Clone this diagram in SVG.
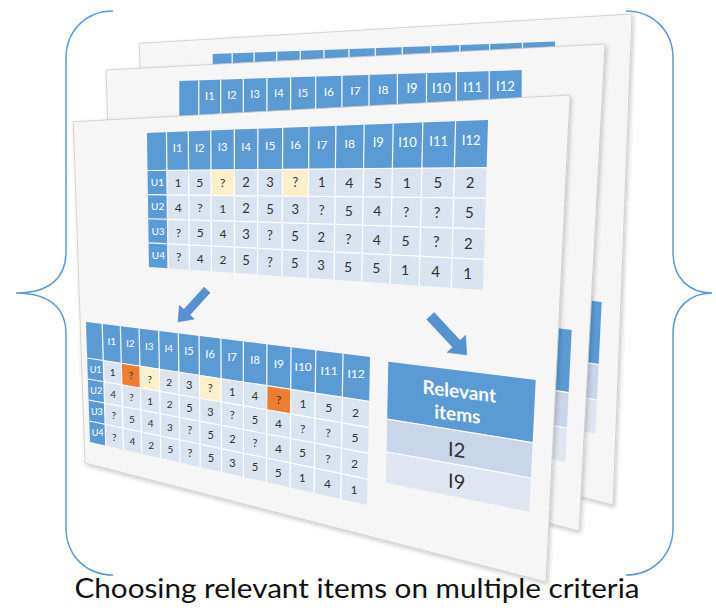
<svg xmlns="http://www.w3.org/2000/svg" xmlns:xlink="http://www.w3.org/1999/xlink" width="716" height="610" viewBox="0 0 716 610">
<defs>
<style>
.slide{fill:#f6f6f6;stroke:#cbcbcb;stroke-width:0.8;filter:url(#shadow)}
.hd{fill:#5b9bd5}
.cell{fill:#dae3f0}
.grid{fill:none;stroke:#ffffff;stroke-width:1.2}
.hl{fill:#fcefc9}
.or{fill:#ed7d31}
.r2{fill:#c9d5e8}
.r9{fill:#e0e6f1}
.t{font-family:Lato,"Liberation Sans",sans-serif;text-anchor:middle}
.w{fill:#ffffff}
.k{fill:#333333}
.s9{font-size:9px}.s10{font-size:10px}.s11{font-size:11px}.s12{font-size:12px}.s13{font-size:13px}.s14{font-size:14px}.s15{font-size:15px}
.brace{fill:none;stroke:#5b9bd5;stroke-width:1.5}
.arrow{fill:#5592cf;stroke:#4a86c2;stroke-width:0.6}
.cap{font-family:Lato,"Liberation Sans",sans-serif;font-size:26px;fill:#111111;text-anchor:middle}
</style>
<filter id="shadow" x="-5%" y="-5%" width="112%" height="112%">
<feDropShadow dx="1.5" dy="2" stdDeviation="2" flood-color="#000000" flood-opacity="0.22"/>
</filter>
<!-- cells of the "Relevant items" box, reused on every sheet -->
<g id="rel-cells">
<polygon class="hd" points="388.3,361.7 535.7,380 532.66,442.56 387.21,419.18"/>
<polygon class="r2" points="387.21,419.18 532.66,442.56 530.94,477.98 386.59,451.72"/>
<polygon class="r9" points="386.59,451.72 530.94,477.98 529.3,511.7 386,482.7"/>
<path class="grid" d="M387.21,419.18L532.66,442.56M386.59,451.72L530.94,477.98"/>
</g>
</defs>

<!-- curly braces -->
<g id="brace-left">
<path class="brace" d="M113,11C86,11 66,31 66,58L66,252C66,279 48,293 16,293C48,293 66,307 66,334L66,528C66,555 86,575 113,575"/>
</g>
<g id="brace-right">
<path class="brace" d="M626,11C653,11 673,31 673,58L673,252C673,279 690,293 712,293C690,293 673,307 673,334L673,528C673,555 653,575 626,575"/>
</g>

<!-- back sheet -->
<g id="sheet-back">
<polygon class="slide" points="139.3,43.3 632,14 613,505 151,384.6"/>
<polygon class="hd" points="212.7,54 555,41.5 555,90 212.7,100"/>
<path class="grid" d="M232.2,53.3V100M254.1,52.5V100M276.7,51.7V100M300.3,50.8V100M323.9,49.9V100M348.9,49V100M375.3,48.1V100M402.3,47.1V100M430.7,46V100M459.8,45V100M489.6,43.9V100M522.5,42.7V100"/>
<use xlink:href="#rel-cells" transform="translate(66,-78)"/>
</g>

<!-- middle sheet -->
<g id="sheet-middle">
<polygon class="slide" points="106,70 605,44 579,531 117.7,411.3"/>
<polygon class="hd" points="179.3,81 521.7,70 521.7,135 179.3,135"/>
<path class="grid" d="M198.8,80.4V135M220.7,79.7V135M243.3,78.9V135M266.9,78.2V135M290.6,77.4V135M315.6,76.6V135M341.9,75.8V135M369,74.9V135M397.4,74V135M426.5,73.1V135M456.3,72.1V135M489.2,71V135"/>
<g class="t w">
<text class="s11" x="209.8" y="99.6">I1</text>
<text class="s11" x="232" y="98.9">I2</text>
<text class="s11" x="255.1" y="98.2">I3</text>
<text class="s11" x="278.8" y="97.4">I4</text>
<text class="s12" x="303.1" y="96.7">I5</text>
<text class="s12" x="328.8" y="95.9">I6</text>
<text class="s12" x="355.5" y="95.1">I7</text>
<text class="s12" x="383.2" y="94.2">I8</text>
<text class="s13" x="412" y="93.4">I9</text>
<text class="s13" x="441.4" y="92.5">I10</text>
<text class="s13" x="472.7" y="91.5">I11</text>
<text class="s13" x="505.4" y="90.5">I12</text>
</g>
<use xlink:href="#rel-cells" transform="translate(36,-50)"/>
</g>

<!-- front sheet -->
<g id="sheet-front">
<polygon class="slide" points="73.3,121.7 570,95 546,582 85,463"/>
</g>

<!-- ratings matrix -->
<g id="ratings">
<polygon class="cell" points="147,133 488,120 483,290 149,267"/>
<polygon class="hd" points="147,133 488,120 486.6,167.6 147.56,170.52"/>
<polygon class="hd" points="147.56,170.52 166.89,170.36 168.04,268.31 149,267"/>
<polygon class="hl" points="210.96,169.97 234.36,169.77 234.39,195.55 211.09,195.31"/>
<polygon class="hl" points="282.5,169.36 308.6,169.13 308.37,196.33 282.36,196.06"/>
<path class="grid" d="M166.44,132.26L168.04,268.31M188.26,131.43L189.41,269.78M210.77,130.57L211.46,271.3M234.3,129.67L234.5,272.89M257.83,128.78L257.55,274.48M282.72,127.83L281.93,276.15M308.98,126.83L307.65,277.93M335.91,125.8L334.04,279.74M364.22,124.72L361.76,281.65M393.2,123.61L390.15,283.61M422.87,122.48L419.21,285.61M455.61,121.24L451.27,287.82M147.56,170.52L486.6,167.6M147.92,194.64L485.7,198.2M148.28,218.76L484.8,228.8M148.64,242.88L483.9,259.4"/>
<g class="t w">
<text class="s11" x="177.54" y="152">I1</text>
<text class="s11" x="199.64" y="151.5">I2</text>
<text class="s11" x="222.6" y="151">I3</text>
<text class="s11" x="246.06" y="150.5">I4</text>
<text class="s12" x="270.2" y="149.9">I5</text>
<text class="s12" x="295.7" y="149.3">I6</text>
<text class="s12" x="322.22" y="148.7">I7</text>
<text class="s12" x="349.76" y="148">I8</text>
<text class="s13" x="378.32" y="147.3">I9</text>
<text class="s13" x="407.57" y="146.7">I10</text>
<text class="s13" x="438.68" y="145.9">I11</text>
<text class="s13" x="471.15" y="145.2">I12</text>
<text class="s10" x="157.4" y="186.1">U1</text>
<text class="s10" x="157.7" y="210.4">U2</text>
<text class="s10" x="158" y="234.7">U3</text>
<text class="s10" x="158.4" y="259">U4</text>
</g>
<g class="t k">
<text class="s12" x="177.86" y="187.1">1</text>
<text class="s12" x="199.85" y="187.1">5</text>
<text class="s12" x="222.7" y="187.1">?</text>
<text class="s13" x="246.05" y="187.1">2</text>
<text class="s13" x="270.07" y="187.1">3</text>
<text class="s13" x="295.45" y="187.1">?</text>
<text class="s13" x="321.85" y="187.1">1</text>
<text class="s14" x="349.26" y="187.8">4</text>
<text class="s14" x="377.69" y="187.8">5</text>
<text class="s14" x="406.79" y="187.8">1</text>
<text class="s15" x="437.76" y="187.8">5</text>
<text class="s15" x="470.07" y="187.8">2</text>

<text class="s12" x="178.11" y="211.8">4</text>
<text class="s12" x="200.02" y="212.2">?</text>
<text class="s12" x="222.78" y="212.7">1</text>
<text class="s13" x="246.04" y="213.2">2</text>
<text class="s13" x="269.98" y="213.7">5</text>
<text class="s13" x="295.27" y="214.2">3</text>
<text class="s13" x="321.56" y="214.7">?</text>
<text class="s14" x="348.87" y="215.8">5</text>
<text class="s14" x="377.19" y="216.3">4</text>
<text class="s14" x="406.19" y="216.9">?</text>
<text class="s15" x="437.04" y="217.5">?</text>
<text class="s15" x="469.24" y="218.2">5</text>

<text class="s12" x="178.35" y="236.5">?</text>
<text class="s12" x="200.19" y="237.4">5</text>
<text class="s12" x="222.86" y="238.3">4</text>
<text class="s13" x="246.03" y="239.2">3</text>
<text class="s13" x="269.88" y="240.1">?</text>
<text class="s13" x="295.08" y="241.1">5</text>
<text class="s13" x="321.27" y="242.2">2</text>
<text class="s14" x="348.48" y="243.7">?</text>
<text class="s14" x="376.7" y="244.8">4</text>
<text class="s14" x="405.58" y="246">5</text>
<text class="s15" x="436.32" y="247.2">?</text>
<text class="s15" x="468.4" y="248.5">2</text>

<text class="s12" x="178.6" y="261.2">?</text>
<text class="s12" x="200.35" y="262.5">4</text>
<text class="s12" x="222.94" y="263.8">2</text>
<text class="s13" x="246.03" y="265.2">5</text>
<text class="s13" x="269.79" y="266.6">?</text>
<text class="s13" x="294.89" y="268.1">5</text>
<text class="s13" x="320.99" y="269.6">3</text>
<text class="s14" x="348.09" y="271.7">5</text>
<text class="s14" x="376.2" y="273.4">5</text>
<text class="s14" x="405" y="275.1">1</text>
<text class="s15" x="435.6" y="276.9">4</text>
<text class="s15" x="467.56" y="278.8">1</text>
</g>
</g>

<!-- matrix with the picked cells -->
<g id="picked">
<polygon class="cell" points="86,322 370,357 367,505 90,442"/>
<polygon class="hd" points="86,322 370,357 369.1,401.4 87.2,358"/>
<polygon class="hd" points="87.2,358 103.27,360.48 105.79,445.59 90,442"/>
<polygon class="or" points="121.31,363.25 139.92,366.12 140.39,388.03 121.86,384.84"/>
<polygon class="hl" points="139.92,366.12 159.37,369.11 159.75,391.36 140.39,388.03"/>
<polygon class="hl" points="199.4,375.27 221.1,378.62 221.22,401.94 199.61,398.22"/>
<polygon class="or" points="266.77,385.65 290.73,389.33 290.55,413.87 266.69,409.77"/>
<path class="grid" d="M102.19,324L105.79,445.59M120.36,326.24L123.52,449.62M139.11,328.55L141.8,453.78M158.7,330.96L160.91,458.13M178.3,333.38L180.03,462.48M199.03,335.93L200.25,467.07M220.9,338.63L221.58,471.93M243.34,341.39L243.46,476.9M266.91,344.3L266.45,482.13M291.05,347.27L289.99,487.49M315.76,350.32L314.09,492.97M343.02,353.68L340.69,499.02M87.2,358L369.1,401.4M87.9,379L368.58,427.3M88.6,400L368.05,453.2M89.3,421L367.53,479.1"/>
<g class="t w">
<text class="s10" x="111.8" y="344.5">I1</text>
<text class="s10" x="130.2" y="347">I2</text>
<text class="s10" x="149.3" y="349.7">I3</text>
<text class="s10" x="168.8" y="352.4">I4</text>
<text class="s11" x="188.9" y="355.2">I5</text>
<text class="s11" x="210.1" y="358.1">I6</text>
<text class="s11" x="232.2" y="361.2">I7</text>
<text class="s11" x="255.1" y="364.3">I8</text>
<text class="s12" x="278.9" y="367.6">I9</text>
<text class="s12" x="303.2" y="371">I10</text>
<text class="s12" x="329.1" y="374.6">I11</text>
<text class="s12" x="356.1" y="378.3">I12</text>
<text class="s9" x="95.6" y="373">U1</text>
<text class="s9" x="96.2" y="394.1">U2</text>
<text class="s9" x="96.9" y="415.3">U3</text>
<text class="s9" x="97.6" y="436.4">U4</text>
</g>
<g class="t k">
<text class="s10" x="112.58" y="376.4">1</text>
<text class="s10" x="130.87" y="379.4">?</text>
<text class="s10" x="149.86" y="382.5">?</text>
<text class="s10" x="169.26" y="385.6">2</text>
<text class="s11" x="189.24" y="388.9">3</text>
<text class="s11" x="210.33" y="392.3">?</text>
<text class="s11" x="232.27" y="395.9">1</text>
<text class="s11" x="255.06" y="399.6">4</text>
<text class="s12" x="278.69" y="404">?</text>
<text class="s12" x="302.88" y="407.9">1</text>
<text class="s12" x="328.61" y="412.1">5</text>
<text class="s12" x="355.48" y="416.5">2</text>

<text class="s10" x="113.17" y="397.8">4</text>
<text class="s10" x="131.38" y="401.1">?</text>
<text class="s10" x="150.28" y="404.5">1</text>
<text class="s10" x="169.61" y="408">2</text>
<text class="s11" x="189.49" y="411.7">5</text>
<text class="s11" x="210.5" y="415.5">3</text>
<text class="s11" x="232.34" y="419.4">?</text>
<text class="s11" x="255.03" y="423.5">5</text>
<text class="s12" x="278.55" y="428.3">4</text>
<text class="s12" x="302.63" y="432.7">?</text>
<text class="s12" x="328.26" y="437.3">?</text>
<text class="s12" x="355" y="442.1">5</text>

<text class="s10" x="113.77" y="419.3">?</text>
<text class="s10" x="131.89" y="422.9">5</text>
<text class="s10" x="150.71" y="426.6">4</text>
<text class="s10" x="169.95" y="430.5">3</text>
<text class="s11" x="189.75" y="434.4">?</text>
<text class="s11" x="210.66" y="438.6">5</text>
<text class="s11" x="232.41" y="442.9">2</text>
<text class="s11" x="255" y="447.4">?</text>
<text class="s12" x="278.42" y="452.6">4</text>
<text class="s12" x="302.4" y="457.4">5</text>
<text class="s12" x="327.92" y="462.5">?</text>
<text class="s12" x="354.55" y="467.8">2</text>

<text class="s10" x="114.36" y="440.7">?</text>
<text class="s10" x="132.4" y="444.6">4</text>
<text class="s10" x="151.14" y="448.7">2</text>
<text class="s10" x="170.3" y="452.9">5</text>
<text class="s11" x="190.01" y="457.2">?</text>
<text class="s11" x="210.83" y="461.7">5</text>
<text class="s11" x="232.48" y="466.5">3</text>
<text class="s11" x="254.97" y="471.4">5</text>
<text class="s12" x="278.28" y="476.9">5</text>
<text class="s12" x="302.16" y="482.1">1</text>
<text class="s12" x="327.56" y="487.7">4</text>
<text class="s12" x="354.08" y="493.5">1</text>
</g>
</g>

<!-- relevant items box; labels are sheared so they follow the tilted rows -->
<g id="relevant">
<use xlink:href="#rel-cells"/>
<g class="t">
<text class="w" x="0" y="0" font-size="19" font-weight="bold" transform="translate(459.3 398) skewY(7)">Relevant</text>
<text class="w" x="0" y="0" font-size="19" font-weight="bold" transform="translate(457.3 421) skewY(7)">items</text>
<text class="k" x="0" y="0" font-size="20" transform="translate(456.7 457) skewY(8)">I2</text>
<text class="k" x="0" y="0" font-size="20" transform="translate(456.7 488.8) skewY(9)">I9</text>
</g>
</g>

<!-- block arrows -->
<g id="connectors">
<polygon class="arrow" points="0,-4 30,-4 30,-10 43,0 30,10 30,4 0,4" transform="translate(207,290) rotate(132.2)"/>
<polygon class="arrow" points="0,-5 38,-5 38,-12.5 53,0 38,12.5 38,5 0,5" transform="translate(430.5,316) rotate(47.1)"/>
</g>

<text class="cap" x="357" y="598" textLength="565" lengthAdjust="spacingAndGlyphs">Choosing relevant items on multiple criteria</text>
</svg>
